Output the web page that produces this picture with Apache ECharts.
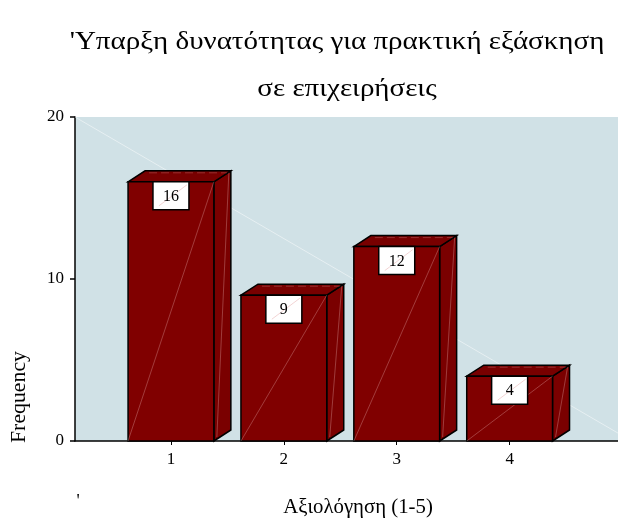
<!DOCTYPE html>
<html><head><meta charset="utf-8">
<script src="https://cdn.jsdelivr.net/npm/echarts@6/dist/echarts.min.js"></script>
<style>html,body{margin:0;padding:0;background:#fff}#c{width:618px;height:521px}</style>
</head><body><div id="c"></div>
<script>
const categories = [1, 2, 3, 4];
const frequencies = [16, 9, 12, 4];
const titleLine1 = "'Υπαρξη δυνατότητας για πρακτική εξάσκηση";
const titleLine2 = "σε επιχειρήσεις";
const xName = "Αξιολόγηση (1-5)";
const yName = "Frequency";

const X_MIN = 0.15, X_MAX = 4.96;
const HALF = 0.38, DX = 17, DY = -11;
const FONT = "Liberation Serif";

const chart = echarts.init(document.getElementById('c'));
const barData = categories.map((c, i) => [c, frequencies[i]]);

function renderBar(params, api) {
  const x = api.value(0), v = api.value(1);
  const bl = api.coord([x - HALF, 0]);
  const tr = api.coord([x + HALF, v]);
  const L = bl[0], B = bl[1], R = tr[0], T = tr[1];
  const stroke = {stroke: '#000', lineWidth: 1.5};
  const faint = {stroke: 'rgba(255,220,220,0.35)', lineWidth: 0.8};
  return {
    type: 'group',
    children: [
      {type: 'polygon', shape: {points: [[R, T], [R + DX, T + DY], [R + DX, B + DY], [R, B]]}, style: Object.assign({fill: '#7a0000'}, stroke)},
      {type: 'polygon', shape: {points: [[L, T], [L + DX, T + DY], [R + DX, T + DY], [R, T]]}, style: Object.assign({fill: '#780000'}, stroke)},
      {type: 'rect', shape: {x: L, y: T, width: R - L, height: B - T}, style: Object.assign({fill: '#800000'}, stroke)},
      {type: 'line', shape: {x1: L, y1: B, x2: R, y2: T}, style: faint},
      {type: 'line', shape: {x1: R + DX - 2, y1: T + DY + 2, x2: R + 3, y2: B - 4}, style: faint},
      {type: 'line', shape: {x1: L + DX + 4, y1: T + DY + 2, x2: R + DX - 4, y2: T + DY + 2}, style: {stroke: 'rgba(255,200,200,0.3)', lineWidth: 0.8, lineDash: [8, 4]}},
      {type: 'rect', shape: {x: (L + R) / 2 - 18, y: T, width: 36, height: 28}, style: {fill: '#fff', stroke: '#000', lineWidth: 1.5}},
      {type: 'line', shape: {x1: (L + R) / 2 - 12, y1: T + 24, x2: (L + R) / 2 + 16, y2: T + 3}, style: {stroke: 'rgba(200,80,80,0.35)', lineWidth: 0.7}},
      {type: 'text', style: {x: (L + R) / 2, y: T + 15, text: String(v), fill: '#000', font: '16px "' + FONT + '"', align: 'center', verticalAlign: 'middle'}}
    ]
  };
}

function txt(text, x, y, size, sx, rot) {
  return {type: 'text', x: x, y: y, scaleX: sx, rotation: rot || 0, silent: true,
    style: {text: text, font: size + 'px "' + FONT + '"', fill: '#000', align: 'center', verticalAlign: 'middle'}};
}

chart.setOption({
  animation: false,
  backgroundColor: '#fff',
  grid: {left: 75, right: 0, top: 117, bottom: 80, show: true, backgroundColor: '#d0e1e6', borderWidth: 0},
  xAxis: {
    type: 'value', min: X_MIN, max: X_MAX,
    axisLine: {show: true, onZero: false, lineStyle: {color: '#000', width: 1.5}},
    axisTick: {show: true, customValues: categories, length: 4, lineStyle: {color: '#000'}},
    axisLabel: {customValues: categories, fontFamily: FONT, fontSize: 17, color: '#000', margin: 10},
    splitLine: {show: false}
  },
  yAxis: {
    type: 'value', min: 0, max: 20, interval: 10,
    axisLine: {show: true, lineStyle: {color: '#000', width: 1.5}},
    axisTick: {show: true, length: 5, lineStyle: {color: '#000', width: 1.5}},
    axisLabel: {fontFamily: FONT, fontSize: 17, color: '#000', margin: 11},
    splitLine: {show: false}
  },
  graphic: [
    txt(titleLine1, 337, 42, 25, 1.16),
    txt(titleLine2, 347, 89, 25, 1.16),
    txt(xName, 358, 508, 20, 1.04),
    txt(yName, 20, 397, 20, 1.09, Math.PI / 2),
    txt("'", 78, 502, 18, 1)
  ],
  series: [
    {type: 'line', data: [[X_MIN, 20], [X_MAX + 0.12, 0]], symbol: 'none', silent: true, z: 1,
     lineStyle: {color: 'rgba(255,255,255,0.6)', width: 0.8}, clip: true},
    {type: 'custom', data: barData, renderItem: renderBar, z: 2, clip: false}
  ]
});
</script></body></html>
